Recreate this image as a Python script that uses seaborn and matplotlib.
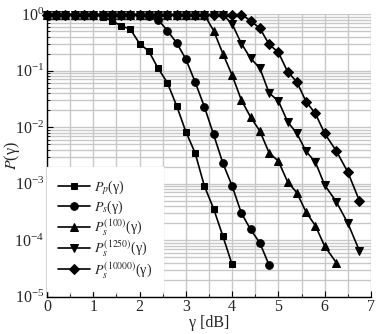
import numpy as np
import pandas as pd
import matplotlib
matplotlib.use("Agg")
import matplotlib.pyplot as plt
import seaborn as sns
from matplotlib.ticker import LogLocator, MultipleLocator, NullFormatter

# ---- data ----
x_p = [0, 0.2, 0.4, 0.6, 0.8, 1.0, 1.2, 1.4, 1.6, 1.8, 2.0, 2.2, 2.4, 2.6, 2.8, 3.0, 3.2, 3.4, 3.6, 3.8, 4.0]
y_p = [0.98, 0.98, 0.98, 0.98, 0.98, 0.98, 0.9, 0.76, 0.62, 0.54, 0.30, 0.22, 0.11, 0.061, 0.024,
       0.0083, 0.0035, 0.00091, 0.00036, 0.000118, 0.000037]

x_s = [0, 0.2, 0.4, 0.6, 0.8, 1.0, 1.2, 1.4, 1.6, 1.8, 2.0, 2.2, 2.4, 2.6, 2.8, 3.0, 3.2, 3.4, 3.6, 3.8,
       4.0, 4.2, 4.4, 4.6, 4.8]
y_s = [0.98] * 11 + [0.93, 0.8, 0.51, 0.31, 0.16, 0.063, 0.023, 0.0074, 0.0023, 0.00091, 0.0003,
                     0.000154, 0.000089, 0.000036]

x_100 = [0, 0.2, 0.4, 0.6, 0.8, 1.0, 1.2, 1.4, 1.6, 1.8, 2.0, 2.2, 2.4, 2.6, 2.8, 3.0, 3.2, 3.4, 3.6,
         3.8, 4.0, 4.2, 4.4, 4.6, 4.8, 5.0, 5.2, 5.4, 5.6, 5.8, 6.0, 6.25]
y_100 = [0.98] * 17 + [0.97, 0.51, 0.20, 0.083, 0.030, 0.015, 0.0085, 0.0035, 0.0025, 0.00107,
                       0.00069, 0.00031, 0.00018, 0.000078, 0.000040]

x_1250 = [0, 0.2, 0.4, 0.6, 0.8, 1.0, 1.2, 1.4, 1.6, 1.8, 2.0, 2.2, 2.4, 2.6, 2.8, 3.0, 3.2, 3.4, 3.6,
          3.8, 4.0, 4.2, 4.4, 4.6, 4.8, 5.0, 5.2, 5.4, 5.6, 5.8, 6.0, 6.25, 6.5, 6.75]
y_1250 = [0.98] * 20 + [0.67, 0.30, 0.165, 0.11, 0.040, 0.029, 0.0124, 0.0077, 0.0037, 0.0024,
                        0.00094, 0.00048, 0.0002, 0.000065]

x_10000 = [0, 0.2, 0.4, 0.6, 0.8, 1.0, 1.2, 1.4, 1.6, 1.8, 2.0, 2.2, 2.4, 2.6, 2.8, 3.0, 3.2, 3.4, 3.6,
           3.8, 4.0, 4.2, 4.4, 4.6, 4.8, 5.0, 5.2, 5.4, 5.6, 5.8, 6.0, 6.25, 6.5, 6.75]
y_10000 = [0.98] * 22 + [0.76, 0.56, 0.29, 0.21, 0.095, 0.063, 0.028, 0.0174, 0.0077, 0.0038,
                         0.0016, 0.0005]

labels = [r'$P_p$(γ)', r'$P_s$(γ)', r'$P_s^{(100)}$(γ)',
          r'$P_s^{(1250)}$(γ)', r'$P_s^{(10000)}$(γ)']
x_ticks = [0, 1, 2, 3, 4, 5, 6, 7]

# ---- style ----
sns.set_theme(style="white")
plt.rcParams['font.family'] = ['Liberation Serif', 'DejaVu Serif']
plt.rcParams['mathtext.fontset'] = 'stix'
plt.rcParams['xtick.direction'] = 'in'
plt.rcParams['ytick.direction'] = 'in'

fig = plt.figure(figsize=(3.82, 3.34), dpi=100)
ax = fig.add_axes([0.123, 0.112, 0.848, 0.846])

series = [(x_p, y_p, 's', 5), (x_s, y_s, 'o', 5.5), (x_100, y_100, '^', 6),
          (x_1250, y_1250, 'v', 6), (x_10000, y_10000, 'D', 4.8)]
for (xs, ys, m, ms), lab in zip(series, labels):
    df = pd.DataFrame({'x': xs, 'y': ys})
    sns.lineplot(data=df, x='x', y='y', ax=ax, color='black', marker=m, markersize=ms,
                 markeredgecolor='black', linewidth=1.2, label=lab, clip_on=False, zorder=3)

ax.set_yscale('log')
ax.set_xlim(0, 7)
ax.set_ylim(1e-5, 1)
ax.set_xticks(x_ticks)
ax.xaxis.set_minor_locator(MultipleLocator(0.5))
ax.yaxis.set_major_locator(LogLocator(base=10, numticks=10))
ax.yaxis.set_minor_locator(LogLocator(base=10, subs=np.arange(2, 10), numticks=20))
ax.yaxis.set_minor_formatter(NullFormatter())

ax.grid(True, which='major', color='#c8c8c8', linewidth=1.0)
ax.grid(True, which='minor', color='#c8c8c8', linewidth=1.0)
ax.set_axisbelow(True)

for s in ['top', 'right']:
    ax.spines[s].set_visible(False)
for s in ['left', 'bottom']:
    ax.spines[s].set_color('black')
    ax.spines[s].set_linewidth(1.0)

ax.tick_params(axis='both', which='major', labelsize=11.5, length=4, width=0.8, color='black',
               bottom=True, left=True, pad=2)
ax.tick_params(axis='both', which='minor', length=2.5, width=0.6, color='black', bottom=True, left=True)

ax.set_xlabel('γ [dB]', fontsize=11.5, labelpad=0)
ax.set_ylabel(r'$P$(γ)', fontsize=11.5)
ax.yaxis.set_label_coords(-0.078, 0.5)

leg = ax.legend(loc='lower left', bbox_to_anchor=(0.0, 0.02), frameon=True, fontsize=10,
                handlelength=2.3, borderpad=0.8, labelspacing=0.12, handletextpad=0.25,
                borderaxespad=0.0)
leg.get_frame().set_facecolor('white')
leg.get_frame().set_edgecolor('white')
leg.get_frame().set_alpha(1.0)
leg.get_frame().set_boxstyle('square', pad=0.0)

fig.savefig('out.png', dpi=100)
